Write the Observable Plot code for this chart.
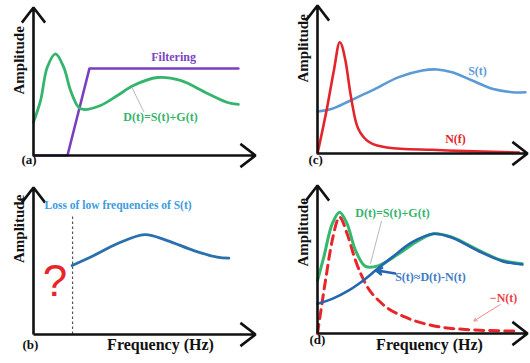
<!DOCTYPE html>
<html>
<head>
<meta charset="utf-8">
<script src="https://cdn.jsdelivr.net/npm/d3@7"></script>
<script src="https://cdn.jsdelivr.net/npm/@observablehq/plot@0.6"></script>
<style>
  html, body { margin: 0; padding: 0; background: #fff; }
  #chart { position: relative; width: 530px; height: 363px; overflow: hidden; background: #fff; }
  #chart > div { position: absolute; }
  svg { overflow: visible; }
</style>
</head>
<body>
<div id="chart">
  <div id="pa" style="left:0;top:0"></div>
  <div id="pc" style="left:265px;top:0"></div>
  <div id="pb" style="left:0;top:180px"></div>
  <div id="pd" style="left:265px;top:180px"></div>
</div>
<script>
// ---------- data (frequency f, amplitude a, arbitrary units 0..10) ----------
const freqRange = [0, 10];
const ampRange = [0, 10];

// (a) recorded spectrum D(t)=S(t)+G(t) and filter response
const dA_f = [0, 0.32, 0.62, 0.99, 1.36, 1.67, 2.03, 2.25, 3.02, 3.78, 4.50, 5.59, 6.62, 7.84, 8.74, 9.23];
const dA_a = [2.25, 3.72, 5.97, 6.87, 5.97, 4.39, 3.26, 3.11, 3.38, 4.05, 4.73, 5.27, 5.07, 4.19, 3.58, 3.45];
const filterA_f = [0, 1.53, 2.52, 9.23];
const filterA_a = [0, 0, 5.88, 5.88];

// (b) filtered signal S(t) above the cut-off
const sB_f = [1.74, 2.72, 3.77, 5.01, 6.02, 7.22, 8.27, 8.80];
const sB_a = [4.69, 5.37, 6.17, 6.80, 6.39, 5.71, 5.26, 5.19];
const cutoffB = [1.76];
const cutoffTopB = 8.1;

// (c) signal S(t) and noise N(f)
const sC_f = [0, 0.70, 1.57, 2.60, 3.87, 4.99, 5.70, 6.41, 7.37, 8.32, 9.27, 9.90];
const sC_a = [2.84, 3.02, 3.58, 4.26, 5.16, 5.61, 5.68, 5.49, 4.93, 4.37, 4.14, 4.14];
const nC_f = [0, 0.46, 0.78, 1.06, 1.33, 1.57, 1.81, 2.20, 2.84, 3.95, 5.46, 7.05, 9.59];
const nC_a = [0, 3.13, 5.61, 7.52, 6.28, 4.03, 2.23, 1.10, 0.54, 0.32, 0.25, 0.16, 0.07];

// (d) D(t), S(t)≈D(t)-N(t), -N(t)
const dD_f = [0, 0.30, 0.70, 1.05, 1.41, 1.81, 2.29, 2.92, 3.87, 4.82, 5.54, 6.41, 7.68, 8.80, 9.75];
const dD_a = [3.58, 5.16, 7.41, 8.20, 7.41, 5.61, 4.53, 4.59, 5.39, 6.28, 6.74, 6.51, 5.61, 4.93, 4.71];
const sD_f = [0, 0.70, 1.49, 2.29, 2.76, 3.56, 4.51, 5.54, 6.41, 7.68, 8.80, 9.75];
const sD_a = [2.01, 2.34, 2.91, 3.70, 4.26, 5.16, 6.17, 6.74, 6.47, 5.56, 4.89, 4.66];
const nD_f = [0, 0.14, 0.38, 0.70, 1.05, 1.41, 1.81, 2.29, 3.08, 4.19, 5.46, 7.05, 9.43];
const nD_a = [0, 1.33, 3.58, 6.28, 7.86, 6.74, 4.93, 3.36, 2.01, 1.10, 0.54, 0.27, 0.16];

// annotations
const labelsA = [
  {t: "Filtering", f: 6.31, a: 6.62, c: "#7b45c4"},
  {t: "D(t)=S(t)+G(t)", f: 5.72, a: 2.57, c: "#35b56c"}
];
const leaderA = [{f1: 4.45, a1: 4.55, f2: 4.97, a2: 2.95}];
const labelsB = [{t: "Loss of low frequencies of S(t)", f: 3.81, a: 8.78, c: "#3c9ce0"}];
const questionB = [{t: "?", f: 0.97, a: 3.55}];
const labelsC = [
  {t: "S(t)", f: 7.62, a: 5.54, c: "#5b9bd5"},
  {t: "N(f)", f: 6.57, a: 0.95, c: "#e3242b"}
];
const labelsD = [
  {t: "D(t)=S(t)+G(t)", f: 3.57, a: 8.11, c: "#35b56c"},
  {t: "S(t)≈D(t)-N(t)", f: 5.38, a: 3.78, c: "#3f7cc4"},
  {t: "−N(t)", f: 8.86, a: 2.36, c: "#e8414a"}
];
const leaderD = [{f1: 3.05, a1: 7.6, f2: 2.52, a2: 4.71}];
const arrowSD = [{f1: 3.70, a1: 4.05, f2: 2.78, a2: 4.28}];
const arrowND = [{f1: 8.70, a1: 1.95, f2: 7.45, a2: 0.85}];

const panelNames = ["(a)", "(b)", "(c)", "(d)"];
const yTitle = "Amplitude";
const xTitle = "Frequency (Hz)";

// ---------- helpers ----------
const zip = (fs, as) => fs.map((f, i) => ({f, a: as[i]}));
const serif = "Liberation Serif, Times New Roman, serif";

function axes() {
  const [f0, f1] = freqRange, [a0, a1] = ampRange;
  return Plot.arrow([{x1: f0, y1: a0, x2: f1, y2: a0}, {x1: f0, y1: a0, x2: f0, y2: a1}], {
    x1: "x1", y1: "y1", x2: "x2", y2: "y2",
    stroke: "#111", strokeWidth: 2.6, headLength: 11, headAngle: 75, strokeLinecap: "butt"
  });
}
function labels(data, size = 12) {
  return Plot.text(data, {x: "f", y: "a", text: "t", fill: "c", fontSize: size, fontWeight: "bold", fontFamily: serif});
}
function yLabel(dx, dy) {
  return Plot.text([yTitle], {text: d => d, frameAnchor: "left", rotate: -90, dx, dy, fontSize: 15, fontWeight: "bold", fontFamily: serif, fill: "#111"});
}
function tag(name, dx, dy) {
  return Plot.text([name], {text: d => d, frameAnchor: "bottom-left", dx, dy, fontSize: 13, fontWeight: "bold", fontFamily: serif, fill: "#111"});
}
function xLabel(dx, dy) {
  return Plot.text([xTitle], {text: d => d, frameAnchor: "bottom", dx, dy, fontSize: 16, fontWeight: "bold", fontFamily: serif, fill: "#111"});
}
function panel(opts, marks) {
  return Plot.plot({
    width: 265, height: opts.h,
    marginLeft: opts.ml, marginRight: opts.mr, marginTop: opts.mt, marginBottom: opts.mb,
    x: {domain: freqRange, axis: null},
    y: {domain: ampRange, axis: null},
    style: {background: "transparent", overflow: "visible", fontFamily: serif},
    marks
  });
}

// ---------- (a) ----------
document.getElementById("pa").append(panel({h: 180, ml: 33, mr: 10, mt: 7, mb: 25}, [
  Plot.line(zip(filterA_f, filterA_a), {x: "f", y: "a", stroke: "#7a3fbe", strokeWidth: 2.6}),
  Plot.line(zip(dA_f, dA_a), {x: "f", y: "a", curve: "catmull-rom", stroke: "#35b56c", strokeWidth: 2.8}),
  Plot.link(leaderA, {x1: "f1", y1: "a1", x2: "f2", y2: "a2", stroke: "#b8b8b8", strokeWidth: 1}),
  axes(),
  labels(labelsA),
  yLabel(-14, 13),
  tag(panelNames[0], -12, 8)
]));

// ---------- (b) ----------
document.getElementById("pb").append(panel({h: 183, ml: 33, mr: 10, mt: 7, mb: 29}, [
  Plot.ruleX(cutoffB, {y1: 0, y2: cutoffTopB, stroke: "#555", strokeWidth: 1.2, strokeDasharray: "2.5,2.5"}),
  Plot.line(zip(sB_f, sB_a), {x: "f", y: "a", curve: "catmull-rom", stroke: "#2a6fae", strokeWidth: 2.8}),
  axes(),
  labels(labelsB, 11.5),
  Plot.text(questionB, {x: "f", y: "a", text: "t", fill: "#e8262a", fontSize: 44, fontFamily: "Liberation Sans, Arial, sans-serif"}),
  yLabel(-14, 2),
  tag(panelNames[1], -11, 14),
  xLabel(16, 15)
]));

// ---------- (c) ----------
document.getElementById("pc").append(panel({h: 180, ml: 52, mr: 3, mt: 5, mb: 27}, [
  Plot.line(zip(sC_f, sC_a), {x: "f", y: "a", curve: "catmull-rom", stroke: "#5b9bd5", strokeWidth: 2.6}),
  Plot.line(zip(nC_f, nC_a), {x: "f", y: "a", curve: "monotone-x", stroke: "#e3242b", strokeWidth: 2.6}),
  axes(),
  labels(labelsC),
  yLabel(-14, 3),
  tag(panelNames[2], -9, 10)
]));

// ---------- (d) ----------
document.getElementById("pd").append(panel({h: 183, ml: 52, mr: 3, mt: 5, mb: 30}, [
  Plot.line(zip(nD_f, nD_a), {x: "f", y: "a", curve: "monotone-x", stroke: "#e8262a", strokeWidth: 3, strokeDasharray: "9,6"}),
  Plot.line(zip(dD_f, dD_a), {x: "f", y: "a", curve: "catmull-rom", stroke: "#35b86e", strokeWidth: 3}),
  Plot.line(zip(sD_f, sD_a), {x: "f", y: "a", curve: "catmull-rom", stroke: "#2466b0", strokeWidth: 2.6}),
  Plot.link(leaderD, {x1: "f1", y1: "a1", x2: "f2", y2: "a2", stroke: "#b8b8b8", strokeWidth: 1}),
  Plot.arrow(arrowSD, {x1: "f1", y1: "a1", x2: "f2", y2: "a2", stroke: "#2466b0", strokeWidth: 2.6, headLength: 8}),
  Plot.arrow(arrowND, {x1: "f1", y1: "a1", x2: "f2", y2: "a2", stroke: "#f08a8a", strokeWidth: 1, headLength: 5}),
  axes(),
  labels(labelsD),
  yLabel(-14, 7),
  tag(panelNames[3], -8, 10),
  xLabel(7, 16)
]));
</script>
</body>
</html>
